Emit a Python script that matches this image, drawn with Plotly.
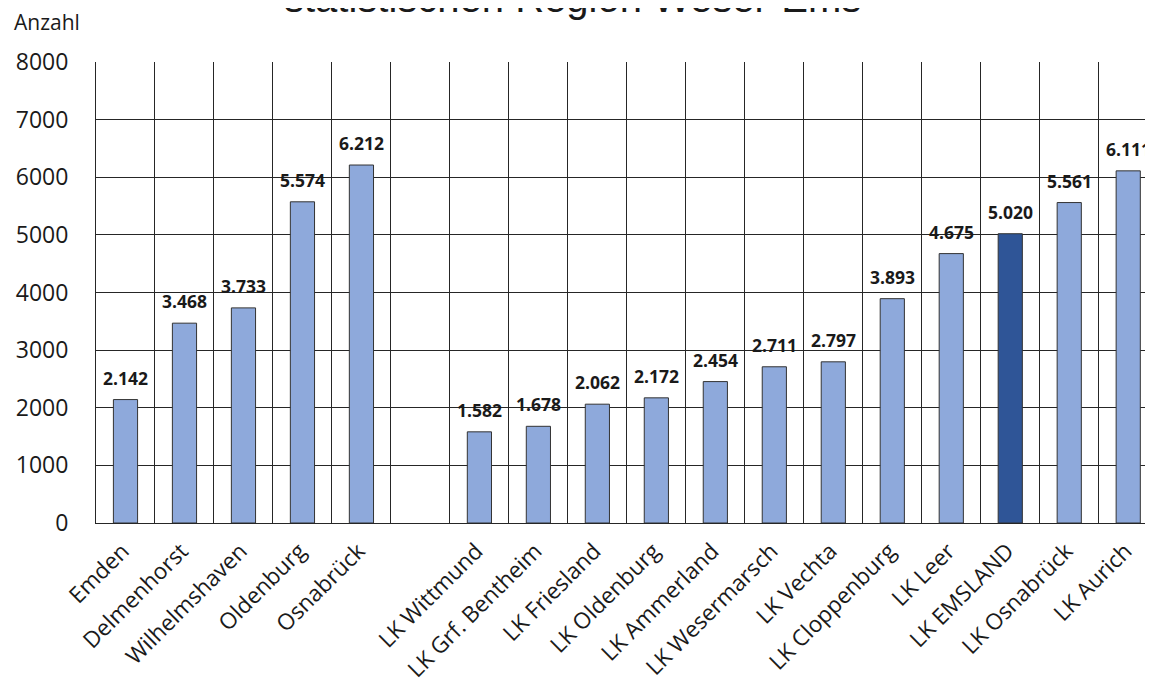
import plotly.graph_objects as go

# Werte je Stadt / Landkreis (Lücke zwischen kreisfreien Städten und Landkreisen)
regionen = [
    "Emden", "Delmenhorst", "Wilhelmshaven", "Oldenburg", "Osnabrück", " ",
    "LK Wittmund", "LK Grf. Bentheim", "LK Friesland", "LK Oldenburg",
    "LK Ammerland", "LK Wesermarsch", "LK Vechta", "LK Cloppenburg",
    "LK Leer", "LK EMSLAND", "LK Osnabrück", "LK Aurich",
]
anzahl = [
    2142, 3468, 3733, 5574, 6212, None,
    1582, 1678, 2062, 2172, 2454, 2711, 2797, 3893, 4675, 5020, 5561, 6111,
]
hervorgehoben = "LK EMSLAND"
y_ticks = [0, 1000, 2000, 3000, 4000, 5000, 6000, 7000, 8000]

farben = ["#2F5597" if r == hervorgehoben else "#8EA9DB" for r in regionen]


def fmt(v):
    return f"{v:,}".replace(",", ".")


fig = go.Figure()
fig.add_trace(
    go.Bar(
        x=regionen,
        y=anzahl,
        marker=dict(color=farben, line=dict(color="#333333", width=1)),
        width=0.41,
        hoverinfo="x+y",
    )
)

# Datenbeschriftungen
for r, v in zip(regionen, anzahl):
    if v is None:
        continue
    fig.add_annotation(
        x=r, y=v, text=f"<b>{fmt(v)}</b>", showarrow=False,
        yanchor="bottom", yshift=8,
        font=dict(family="Open Sans", size=17.5, color="#1a1a1a"),
    )

fig.add_annotation(
    xref="paper", yref="paper", x=0.4506, y=1, yanchor="bottom", yshift=40,
    text="statistischen Region Weser-Ems", showarrow=False,
    font=dict(family="Liberation Sans, Arial", size=40, color="#1a1a1a"),
)
fig.add_annotation(
    xref="paper", yref="paper", x=-0.079, y=1, xanchor="left", yanchor="middle",
    yshift=40, text="Anzahl", showarrow=False,
    font=dict(family="Open Sans", size=21, color="#1a1a1a"),
)

# die Seite hat 8px Rand, daher Breite/Höhe und Ränder etwas kleiner
fig.update_layout(
    width=1145,
    height=674,
    autosize=False,
    margin=dict(l=87.5, r=0, t=54, b=159),
    plot_bgcolor="white",
    paper_bgcolor="white",
    showlegend=False,
    bargap=0.59,
    xaxis=dict(
        type="category",
        range=[-0.5, 17.42],
        automargin=False,
        tickson="boundaries",
        showgrid=True,
        gridcolor="#262626",
        gridwidth=1,
        showline=True,
        linecolor="#262626",
        ticks="",
        tickangle=-45,
        ticklabelstandoff=5,
        ticklabelshift=-3,
        tickfont=dict(family="Open Sans", size=22.5, color="#1a1a1a"),
    ),
    yaxis=dict(
        range=[0, 8000],
        automargin=False,
        tickvals=y_ticks,
        ticktext=[str(t) for t in y_ticks],
        showgrid=True,
        gridcolor="#262626",
        gridwidth=1,
        showline=True,
        linecolor="#262626",
        zeroline=False,
        ticks="",
        ticklabelstandoff=22,
        tickfont=dict(family="Open Sans", size=23, color="#1a1a1a"),
    ),
)

fig.write_html("out.html")
